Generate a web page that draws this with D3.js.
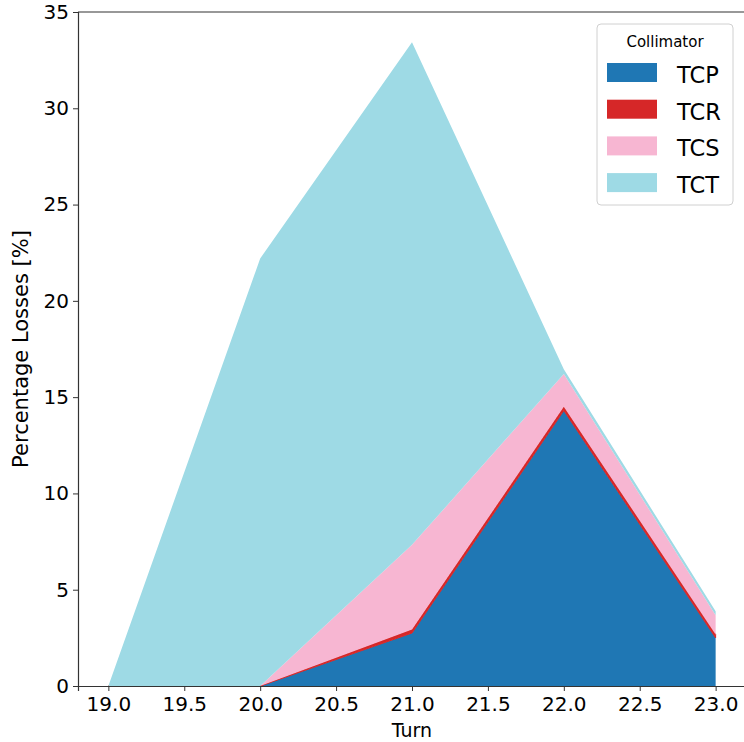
<!DOCTYPE html>
<html><head><meta charset="utf-8">
<script src="https://cdn.jsdelivr.net/npm/d3@7"></script>
<style>body{margin:0;background:#fff;} svg{display:block;font-family:"DejaVu Sans",sans-serif;}</style>
</head><body>
<svg id="c" width="744" height="742"></svg>
<script>
const turns = [19, 20, 21, 22, 23];
const collimators = ["TCP", "TCR", "TCS", "TCT"];
const TCP = [0, 0, 2.75, 14.3, 2.5];
const TCR = [0, 0, 0.18, 0.2, 0.18];
const TCS = [0, 0, 4.4, 1.7, 1.0];
const TCT = [0, 22.2, 26.1, 0.25, 0.2];
const xTicks = [19.0, 19.5, 20.0, 20.5, 21.0, 21.5, 22.0, 22.5, 23.0];
const yTicks = [0, 5, 10, 15, 20, 25, 30, 35];
const colors = {TCP:"#1f77b4", TCR:"#d62728", TCS:"#f7b6d2", TCT:"#9edae5"};

const seriesVals = {TCP, TCR, TCS, TCT};
const table = turns.map((t,i)=>{const o={turn:t}; collimators.forEach(c=>o[c]=seriesVals[c][i]); return o;});

const svg = d3.select("#c");
const L=78, T=12, B=686, R=746;
const x = d3.scaleLinear().domain([18.8, 23.2]).range([L, R]);
const y = d3.scaleLinear().domain([0, 35]).range([B, T]);

const stack = d3.stack().keys(collimators)(table);
const area = d3.area().x(d=>x(d.data.turn)).y0(d=>y(d[0])).y1(d=>y(d[1]));
svg.append("g").selectAll("path").data(stack).join("path")
  .attr("d", area).attr("fill", d=>colors[d.key])
  .attr("stroke", d=>d.key==="TCR"?colors[d.key]:"none").attr("stroke-width",1);

// axes
const xa = svg.append("g").attr("transform",`translate(0,${B})`)
  .call(d3.axisBottom(x).tickValues(xTicks).tickFormat(d3.format(".1f")).tickSize(5).tickPadding(6));
const ya = svg.append("g").attr("transform",`translate(${L},0)`)
  .call(d3.axisLeft(y).tickValues(yTicks).tickFormat(d3.format("d")).tickSize(5).tickPadding(4));
[xa,ya].forEach(a=>{
  a.selectAll("text").attr("font-size",20).attr("fill","#000").attr("font-family","DejaVu Sans");
  a.selectAll("line").attr("stroke","#333").attr("stroke-width",1);
  a.select(".domain").attr("stroke","#333").attr("stroke-width",1.2);
});
// top spine
svg.append("line").attr("x1",L).attr("x2",R).attr("y1",T).attr("y2",T).attr("stroke","#333").attr("stroke-width",1.2);
svg.append("line").attr("x1",R).attr("x2",R).attr("y1",T).attr("y2",B).attr("stroke","#333").attr("stroke-width",1.2);

svg.append("text").attr("x",412).attr("y",737).attr("text-anchor","middle")
  .attr("font-size",19).text("Turn");
svg.append("text").attr("transform",`translate(28,349) rotate(-90)`).attr("text-anchor","middle")
  .attr("font-size",21).text("Percentage Losses [%]");

// legend
const lg = svg.append("g").attr("transform","translate(597,24)");
lg.append("rect").attr("width",136).attr("height",181).attr("rx",4)
  .attr("fill","#fff").attr("fill-opacity",0.8).attr("stroke","#d0d0d0");
lg.append("text").attr("x",68).attr("y",23).attr("text-anchor","middle").attr("font-size",15).text("Collimator");
collimators.forEach((c,i)=>{
  const yy = 39 + i*36.7;
  lg.append("rect").attr("x",10).attr("y",yy).attr("width",50).attr("height",19).attr("fill",colors[c]);
  lg.append("text").attr("x",80).attr("y",yy+20).attr("font-size",22.5).text(c);
});
</script>
</body></html>
